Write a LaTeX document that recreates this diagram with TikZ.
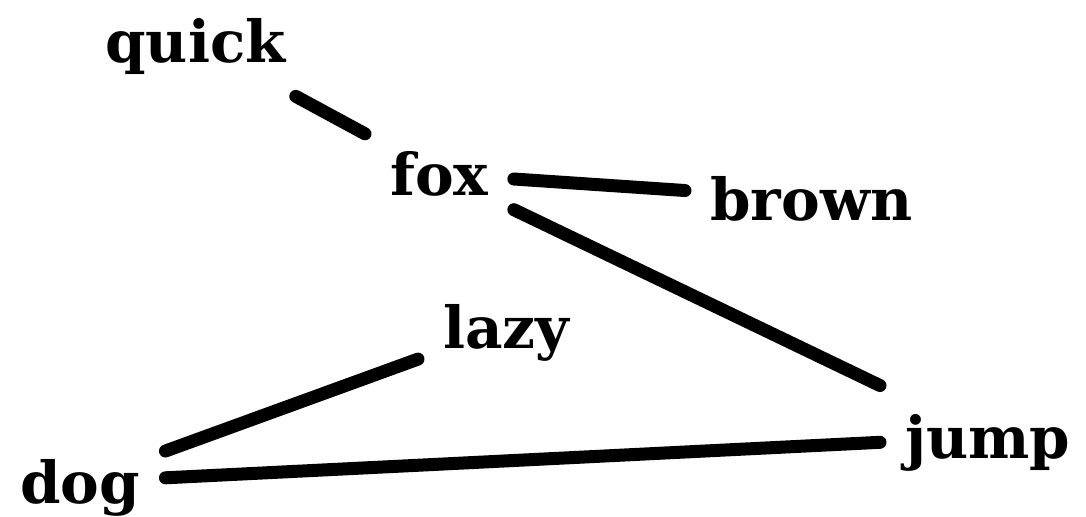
\documentclass[tikz,border=0pt]{standalone}
\usepackage{fontspec}
\setmainfont{DejaVu Serif}
\begin{document}
\begin{tikzpicture}[x=0.02cm,y=-0.02cm,
    word/.style={font=\fontsize{33}{40}\selectfont\bfseries,inner sep=0.5cm,
      text height=1cm,text depth=0.16cm,anchor=base west},
    link/.style={line width=7.4pt,line cap=round}]
    \useasboundingbox (0,0) rectangle (1086,517);
    \node[word] (quick) at (80,63) {quick};
    \node[word] (fox) at (365,195) {fox};
    \node[word] (brown) at (685,220) {brown};
    \node[word] (lazy) at (418,348) {lazy};
    \node[word] (jump) at (880,458) {jump};
    \node[word] (dog) at (-5,503) {dog};
    \draw[link] (quick) -- (fox);
    \draw[link] (fox) -- (brown);
    \draw[link] (fox) -- (jump);
    \draw[link] (lazy) -- (dog);
    \draw[link] (dog) -- (jump);
  \end{tikzpicture}
\end{document}
